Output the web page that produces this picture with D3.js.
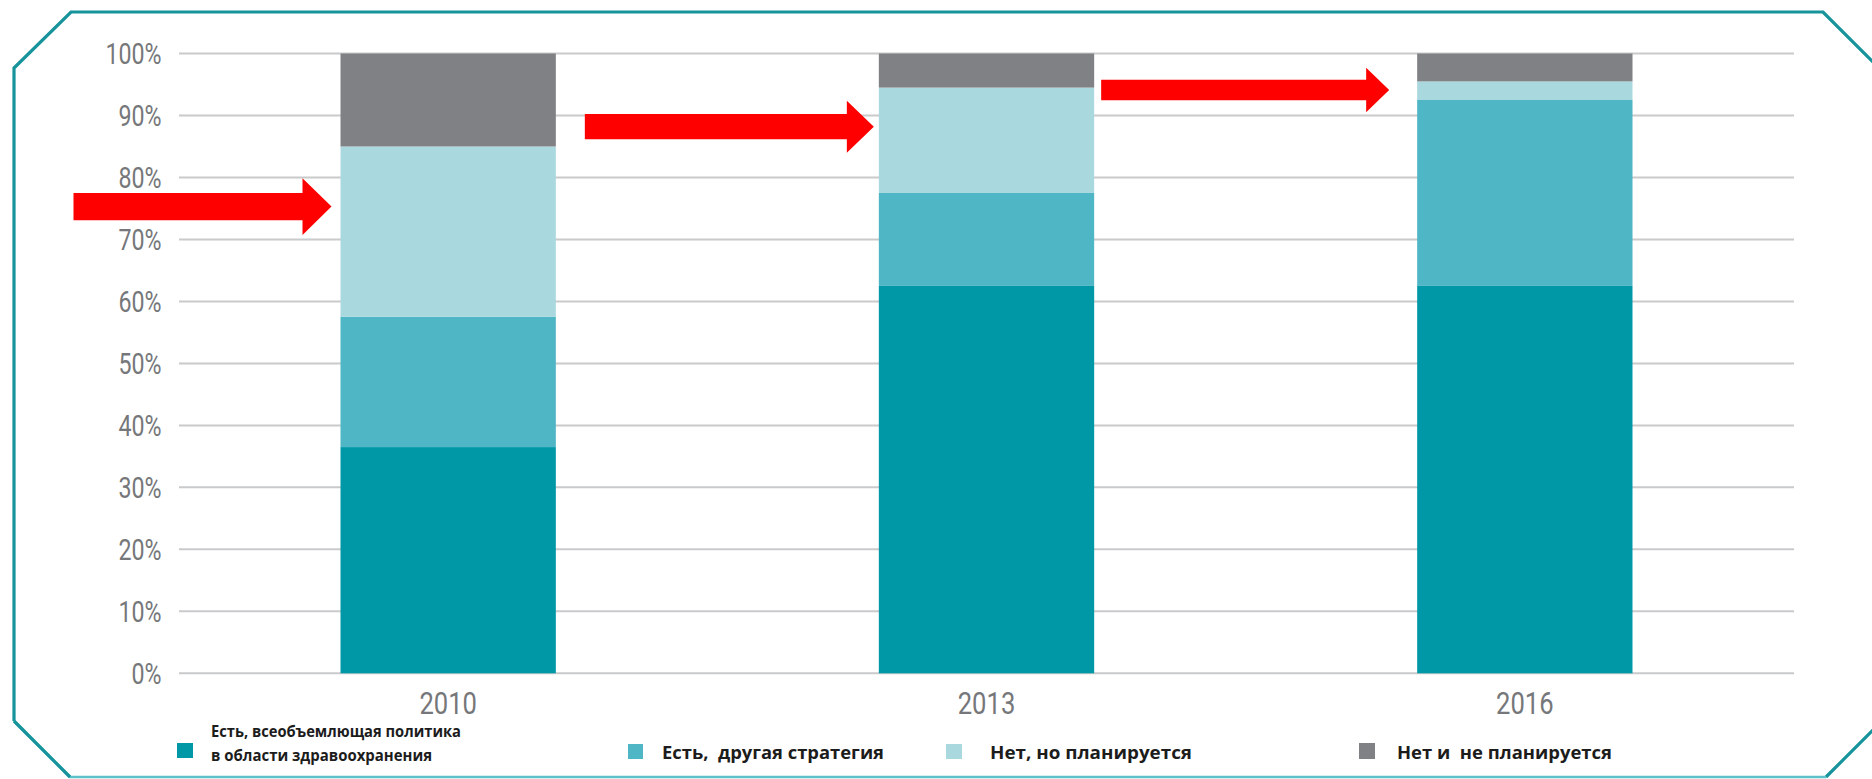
<!DOCTYPE html>
<html lang="ru">
<head>
<meta charset="utf-8">
<script src="https://cdn.jsdelivr.net/npm/d3@7"></script>
<style>
  html, body { margin: 0; padding: 0; background: #ffffff; }
  svg { display: block; }
</style>
</head>
<body>
<svg id="chart" width="1872" height="779"></svg>
<script>
// Survey years and share of countries (%) in each policy status
const years = ["2010", "2013", "2016"];
const comprehensivePolicy = [36.5, 62.5, 62.5];
const otherStrategy = [21, 15, 30];
const plannedOnly = [27.5, 17, 3];
const notPlanned = [15, 5.5, 4.5];

const seriesKeys = ["comprehensive", "other", "planned", "none"];
const seriesColors = ["#0097a7", "#4eb6c4", "#a9d8df", "#808184"];
const legendLabels = [
  ["Есть, всеобъемлющая политика", "в области здравоохранения"],
  ["Есть,  другая стратегия"],
  ["Нет, но планируется"],
  ["Нет и  не планируется"]
];
const yTicks = [0, 10, 20, 30, 40, 50, 60, 70, 80, 90, 100];

// Highlight arrows: which bar they point at and at what level (%)
const arrowYears = ["2010", "2013", "2016"];
const arrowLevels = [75.3, 88.2, 94.1];

const rows = years.map((yr, i) => ({
  year: yr,
  comprehensive: comprehensivePolicy[i],
  other: otherStrategy[i],
  planned: plannedOnly[i],
  none: notPlanned[i]
}));

const svg = d3.select("#chart");
const plot = { left: 179, right: 1794, top: 53.5, bottom: 673.3 };

const x = d3.scaleBand()
  .domain(years)
  .range([plot.left, plot.right])
  .paddingInner(0.6)
  .paddingOuter(0.3);

const y = d3.scaleLinear().domain([0, 100]).range([plot.bottom, plot.top]);
const color = d3.scaleOrdinal().domain(seriesKeys).range(seriesColors);

// Octagonal frame
const frameTeal = "#17939c";
svg.append("path")
  .attr("d", "M14,721 L14,68 L71,12 L1823,12 L1890,79 L1890,713 L1826,777")
  .attr("fill", "none")
  .attr("stroke", frameTeal)
  .attr("stroke-width", 3.2)
  .attr("stroke-linejoin", "miter");
svg.append("path")
  .attr("d", "M14,721 L70,777 L1826,777")
  .attr("fill", "none")
  .attr("stroke", "#5cc1c9")
  .attr("stroke-width", 2.6);
svg.append("path")
  .attr("d", "M14,721 L70,777")
  .attr("fill", "none")
  .attr("stroke", frameTeal)
  .attr("stroke-width", 3.2);

// Horizontal gridlines
svg.append("g")
  .selectAll("line")
  .data(yTicks)
  .join("line")
  .attr("x1", plot.left)
  .attr("x2", plot.right)
  .attr("y1", d => y(d))
  .attr("y2", d => y(d))
  .attr("stroke", "#c9cacc")
  .attr("stroke-width", 2);

// Y axis labels (condensed numerals)
const numFont = "Roboto, 'Liberation Sans', sans-serif";
const squeeze = 0.8;
svg.append("g")
  .attr("transform", `translate(${plot.left},0)`)
  .call(d3.axisLeft(y).tickValues(yTicks).tickSize(0).tickFormat(d => d + "%"))
  .call(g => g.select(".domain").remove())
  .selectAll("text")
  .attr("font-family", numFont)
  .attr("font-weight", 400)
  .attr("font-size", 29)
  .attr("fill", "#76777a")
  .attr("x", -17.5 / squeeze)
  .attr("dy", "0.36em")
  .attr("transform", `scale(${squeeze},1)`);

// Stacked bars
const stacked = d3.stack().keys(seriesKeys)(rows);
svg.append("g")
  .selectAll("g")
  .data(stacked)
  .join("g")
  .attr("fill", d => color(d.key))
  .selectAll("rect")
  .data(d => d)
  .join("rect")
  .attr("x", d => x(d.data.year))
  .attr("width", x.bandwidth())
  .attr("y", d => y(d[1]))
  .attr("height", d => y(d[0]) - y(d[1]));

// Year labels (tick groups carry the translation, so the squeeze keeps them centred)
svg.append("g")
  .attr("transform", `translate(0,${plot.bottom})`)
  .call(d3.axisBottom(x).tickSize(0))
  .call(g => g.select(".domain").remove())
  .selectAll("text")
  .attr("font-family", numFont)
  .attr("font-weight", 400)
  .attr("font-size", 32)
  .attr("fill", "#76777a")
  .attr("y", 40.5)
  .attr("dy", 0)
  .attr("transform", `scale(${squeeze},1)`);

// Red arrows
const arrowSpec = [
  { gap: 9, len: 258, headLen: 29, headHalf: 28.3, shaftHalf: 13.7 },
  { gap: 5, len: 289, headLen: 27, headHalf: 26, shaftHalf: 12.7 },
  { gap: 28, len: 288, headLen: 23, headHalf: 22.2, shaftHalf: 10.3 }
];
svg.append("g")
  .selectAll("path")
  .data(arrowYears.map((yr, i) => ({ yr, level: arrowLevels[i], ...arrowSpec[i] })))
  .join("path")
  .attr("fill", "#ff0000")
  .attr("d", d => {
    const tipX = x(d.yr) - d.gap;
    const tipY = y(d.level);
    const baseX = tipX - d.headLen;
    const tailX = tipX - d.len;
    return `M${tailX},${tipY - d.shaftHalf} L${baseX},${tipY - d.shaftHalf} L${baseX},${tipY - d.headHalf} ` +
      `L${tipX},${tipY} L${baseX},${tipY + d.headHalf} L${baseX},${tipY + d.shaftHalf} L${tailX},${tipY + d.shaftHalf} Z`;
  });

// Legend
const legendFont = "'Open Sans', 'Noto Sans', sans-serif";
const legendItems = [
  { sq: [177, 743, 16, 15], tx: 211, lines: [[736.5, 250], [760.5, 221]], size: 16 },
  { sq: [628, 744, 15, 15], tx: 662, lines: [[759, 222]], size: 17.5 },
  { sq: [946, 744, 16, 15], tx: 990, lines: [[759, 202]], size: 17.5 },
  { sq: [1359, 743, 16, 16], tx: 1397, lines: [[758.5, 215]], size: 18 }
];
const legend = svg.append("g");
legendItems.forEach((item, i) => {
  legend.append("rect")
    .attr("x", item.sq[0]).attr("y", item.sq[1])
    .attr("width", item.sq[2]).attr("height", item.sq[3])
    .attr("fill", seriesColors[i]);
  legendLabels[i].forEach((txt, j) => {
    legend.append("text")
      .attr("x", item.tx)
      .attr("y", item.lines[j][0])
      .attr("textLength", item.lines[j][1])
      .attr("lengthAdjust", "spacingAndGlyphs")
      .attr("font-family", legendFont)
      .attr("font-weight", 700)
      .attr("font-size", item.size)
      .attr("fill", "#1c1c1c")
      .style("white-space", "pre")
      .text(txt);
  });
});
</script>
</body>
</html>
